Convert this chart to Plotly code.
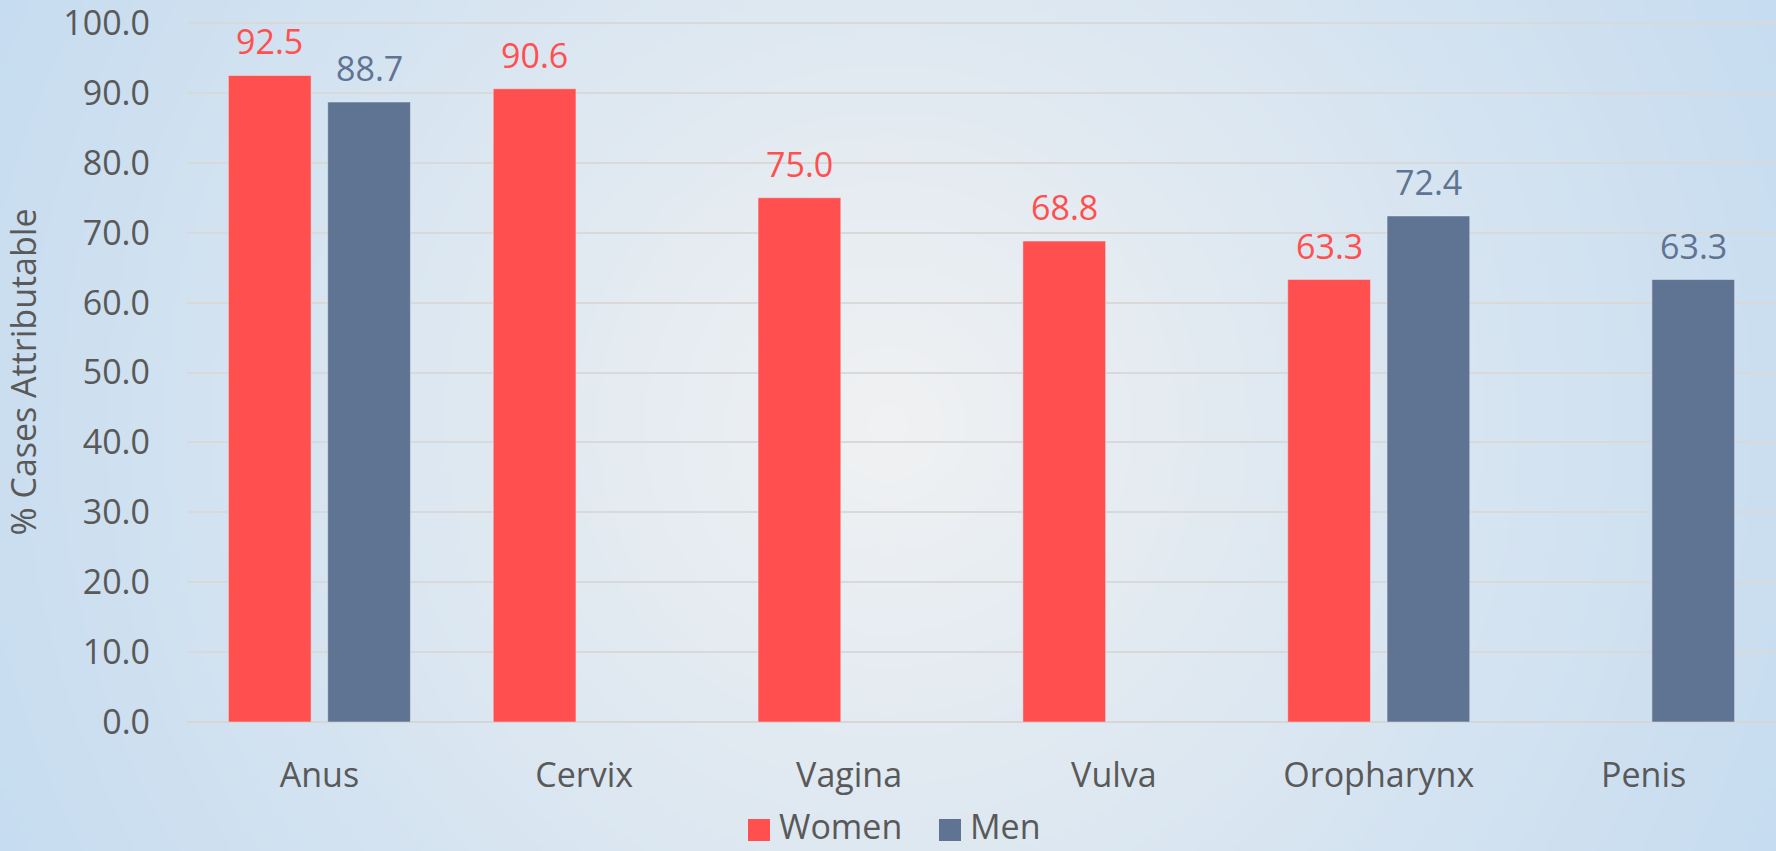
import base64, struct, zlib
import numpy as np
import plotly.graph_objects as go

categories = ["Anus", "Cervix", "Vagina", "Vulva", "Oropharynx", "Penis"]
women = [92.5, 90.6, 75.0, 68.8, 63.3, None]
men = [88.7, None, None, None, 72.4, 63.3]
series_names = ["Women", "Men"]
y_ticks = [0, 10, 20, 30, 40, 50, 60, 70, 80, 90, 100]

W, H = 1776, 851
ML, MR, MT, MB = 187, 0, 22, 129
PW, PH = W - ML - MR, H - MT - MB

RED = "#FF4F4F"
BLUE = "#5F7492"
GRAY = "#595959"
FONT = "Open Sans"
FS = 34
BARGAP, GROUPGAP = 0.25, 0.167


def gradient_png(w, h):
    yy, xx = np.mgrid[0:h, 0:w].astype(float)
    cx, cy = (w - 1) / 2, (h - 1) / 2
    d = np.sqrt((xx - cx) ** 2 + (yy - cy) ** 2) / np.sqrt(cx ** 2 + cy ** 2)
    d = np.clip(d, 0, 1)[..., None]
    c0 = np.array([240, 241, 242], float)
    c1 = np.array([198, 220, 240], float)
    img = (c0 * (1 - d) + c1 * d).round().astype(np.uint8)
    raw = b"".join(b"\x00" + img[r].tobytes() for r in range(h))

    def chunk(tag, data):
        c = struct.pack(">I", len(data)) + tag + data
        return c + struct.pack(">I", zlib.crc32(tag + data) & 0xFFFFFFFF)

    png = b"\x89PNG\r\n\x1a\n" + chunk(b"IHDR", struct.pack(">IIBBBBB", w, h, 8, 2, 0, 0, 0))
    png += chunk(b"IDAT", zlib.compress(raw, 9)) + chunk(b"IEND", b"")
    return "data:image/png;base64," + base64.b64encode(png).decode()


fig = go.Figure()
series = [(series_names[0], women, RED), (series_names[1], men, BLUE)]
for name, vals, col in series:
    fig.add_trace(go.Bar(name=name, x=categories, y=vals, marker_color=col,
                         showlegend=False, hoverinfo="x+y"))

# value labels above bars (shifted to each bar's slot in the group)
cat_px = PW / len(categories)
slot_px = (1 - BARGAP) * cat_px / len(series)
annotations = []
for i, (name, vals, col) in enumerate(series):
    xs = (i - (len(series) - 1) / 2) * slot_px
    for c, v in zip(categories, vals):
        if v is None:
            continue
        annotations.append(dict(x=c, y=v, xref="x", yref="y", text=f"{v:.1f}",
                                showarrow=False, xshift=xs, yshift=9,
                                yanchor="bottom", xanchor="center",
                                font=dict(size=FS, color=col, family=FONT)))

# legend drawn manually (larger swatches)
def px_x(p):
    return (p - ML) / PW

def px_y(p):
    return (H - MB - p) / PH

shapes = []
leg_items = [(series_names[0], RED, 748), (series_names[1], BLUE, 939)]
for name, col, x0 in leg_items:
    shapes.append(dict(type="rect", xref="paper", yref="paper",
                       x0=px_x(x0), x1=px_x(x0 + 22), y0=px_y(841), y1=px_y(819),
                       fillcolor=col, line=dict(width=0)))
    annotations.append(dict(x=px_x(x0 + 30), y=px_y(H - 1), xref="paper", yref="paper",
                            text=name, showarrow=False, xanchor="left", yanchor="bottom",
                            borderpad=0,
                            font=dict(size=FS, color=GRAY, family=FONT)))

fig.update_layout(
    width=W, height=H,
    margin=dict(l=ML, r=MR, t=MT, b=MB, pad=0),
    paper_bgcolor="rgba(0,0,0,0)", plot_bgcolor="rgba(0,0,0,0)",
    font=dict(family=FONT, size=FS, color=GRAY),
    barmode="group", bargap=BARGAP, bargroupgap=GROUPGAP,
    showlegend=False,
    annotations=annotations, shapes=shapes,
    images=[dict(source=gradient_png(444, 213), xref="paper", yref="paper",
                 x=-ML / PW, y=1 + MT / PH, sizex=W / PW, sizey=H / PH,
                 xanchor="left", yanchor="top", sizing="stretch", layer="below")],
)
fig.update_xaxes(showgrid=False, showline=False, ticks="", ticklabelstandoff=30,
                 tickfont=dict(size=FS, color=GRAY))
fig.update_yaxes(range=[0, 100.15], tickvals=y_ticks, tickformat=".1f",
                 showgrid=True, gridcolor="#D9D9D9", gridwidth=1.5,
                 zeroline=True, zerolinecolor="#D6D6D6", zerolinewidth=2,
                 showline=False, ticks="", ticklabelstandoff=36,
                 ticklabeloverflow="allow",
                 tickfont=dict(size=FS, color=GRAY),
                 title=dict(text="% Cases Attributable", standoff=31,
                            font=dict(size=FS, color=GRAY)))

fig.write_html("out.html", config={"displayModeBar": False},
               post_script="document.body.style.margin='0';document.body.style.overflow='hidden';")
